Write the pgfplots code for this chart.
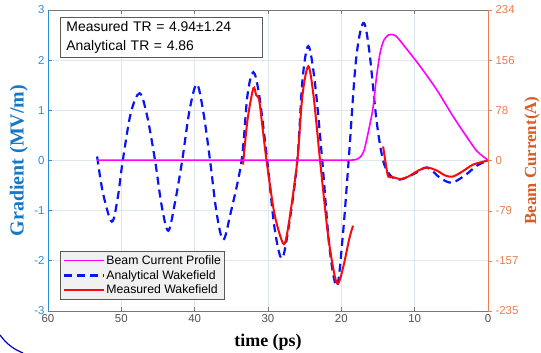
\documentclass[border=0pt]{standalone}
\usepackage{fontspec}
\setmainfont{Liberation Sans}
\newfontfamily\serifb{Liberation Serif}
\usepackage{pgfplots}
\pgfplotsset{compat=1.18}
\definecolor{tickblue}{RGB}{45,140,215}
\definecolor{labblue}{RGB}{20,120,200}
\definecolor{tickorange}{RGB}{232,125,80}
\definecolor{laborange}{RGB}{217,90,35}
\definecolor{axgray}{RGB}{120,120,120}
\definecolor{tickgray}{RGB}{80,80,80}
\definecolor{gridc}{RGB}{222,230,238}
\definecolor{wblue}{RGB}{10,20,245}
\definecolor{wred}{RGB}{250,10,10}
\definecolor{wmag}{RGB}{255,0,255}

\pgfplotstableread{
t G
53.3 0.08
52.5 -0.65
51.3 -1.22
50.5 -0.75
49.8 0.0
48.7 0.95
47.5 1.34
46.5 0.9
45.4 0.0
44.5 -0.9
43.6 -1.40
42.7 -0.85
41.7 0.0
40.7 1.0
39.7 1.52
38.8 0.95
37.9 0.0
37.0 -1.05
36.1 -1.58
35.1 -1.05
33.6 0.0
32.8 1.3
32.0 1.76
31.2 1.3
30.1 0.0
29.1 -1.35
28.1 -1.95
27.1 -1.25
26.0 0.0
25.3 1.6
24.5 2.28
23.6 1.55
22.6 0.0
21.6 -1.75
20.6 -2.50
19.8 -1.5
19.0 0.0
18.0 2.0
17.0 2.74
16.2 2.2
15.2 0.8
14.3 0.0
13.3 -0.30
12.0 -0.38
10.0 -0.26
8.3 -0.14
6.5 -0.35
4.9 -0.44
3.0 -0.28
1.5 -0.10
0.0 0.0
}\analytical

\pgfplotstableread{
t G
33.4 -0.08
32.8 0.80
32.0 1.44
31.6 1.30
31.2 1.20
30.7 0.60
30.2 0.0
29.2 -1.0
28.3 -1.52
27.7 -1.65
27.0 -1.10
26.0 0.0
25.3 1.30
24.5 1.88
23.8 1.30
22.9 0.0
21.8 -1.50
20.9 -2.30
20.4 -2.45
19.7 -2.10
18.9 -1.55
18.4 -1.30
}\measuredA

\pgfplotstableread{
t G
14.3 0.28
13.9 -0.10
13.6 -0.32
13.0 -0.33
12.0 -0.37
11.0 -0.33
9.5 -0.20
8.3 -0.14
7.0 -0.20
5.8 -0.30
4.8 -0.32
3.5 -0.22
2.0 -0.08
0.0 0.0
}\measuredB

\pgfplotstableread{
t I
53.3 0
45.0 0
35.0 0
25.0 0
20.0 0
18.8 0
18.0 1
17.4 5
16.9 15
16.3 45
15.7 80
15.2 130
14.7 168
14.2 187
13.6 195
13.2 196
12.5 193
11.0 172
9.3 147
7.0 110
4.8 69
3.0 38
1.5 14
0.0 0
}\current

\begin{document}
\begin{tikzpicture}
\useasboundingbox (0,0) rectangle (541bp,353bp);
\begin{axis}[
  at={(48bp,42bp)}, anchor=south west,
  scale only axis, width=440bp, height=301bp,
  x dir=reverse, xmin=0, xmax=60, ymin=-3, ymax=3,
  xtick={0,10,...,60}, ytick={-3,-2,...,3},
  axis x line*=box, axis y line*=left,
  axis line style={-},
  x axis line style={draw=axgray, line width=0.9bp},
  y axis line style={draw=tickblue, line width=0.9bp},
  x tick style={draw=axgray, line width=0.7bp},
  y tick style={draw=tickblue, line width=0.7bp},
  tick align=inside, major tick length=4bp,
  grid=major, major grid style={draw=gridc, line width=0.7bp},
  /pgf/number format/assume math mode=true,
  xticklabel style={text=tickgray, font=\fontsize{11.5}{12}\selectfont},
  yticklabel style={text=tickblue, font=\fontsize{11.5}{12}\selectfont},
  xlabel={time (ps)},
  xlabel style={font=\serifb\bfseries\fontsize{18}{18}\selectfont, text=black, at={(axis description cs:0.5,-0.105)}, anchor=center},
  ylabel={Gradient (MV/m)},
  ylabel style={font=\serifb\bfseries\fontsize{20}{20}\selectfont, text=labblue, at={(axis description cs:-0.066,0.5)}, anchor=center},
  legend cell align=left,
  legend image code/.code={\draw[#1] (0bp,0bp) -- (40bp,0bp);},
  legend style={at={(axis description cs:0.027,0.037)}, anchor=south west,
    fill=black!6, draw=black!65, line width=0.8bp,
    font=\fontsize{12.3}{13}\selectfont, row sep=2.5bp,
    inner xsep=3bp, inner ysep=3bp,
    nodes={inner sep=1bp}},
]
\addlegendimage{wmag, line width=1.6bp}
\addlegendentry{Beam Current Profile}
\addplot[wblue, line width=2.2bp, dash pattern=on 8bp off 5bp, smooth, tension=0.55] table[x=t,y=G]{\analytical};
\addlegendentry{Analytical Wakefield}
\addplot[wred, line width=2bp, smooth, tension=0.5] table[x=t,y=G]{\measuredA};
\addlegendentry{Measured Wakefield}
\addplot[wred, line width=2bp, smooth, tension=0.5, forget plot] table[x=t,y=G]{\measuredB};
\node[draw=black!65, line width=0.8bp, fill=white, anchor=north west, align=left,
  font=\fontsize{14}{19}\selectfont, inner xsep=6bp, inner ysep=4bp, text width=190bp]
  at (axis cs:58.36,2.86) {Measured TR = 4.94±1.24\\Analytical TR = 4.86};
\end{axis}
\begin{axis}[
  at={(48bp,42bp)}, anchor=south west,
  scale only axis, width=440bp, height=301bp,
  x dir=reverse, xmin=0, xmax=60, ymin=-235, ymax=234,
  hide x axis,
  axis y line*=right,
  axis line style={-},
  y axis line style={draw=tickorange, line width=0.9bp},
  y tick style={draw=tickorange, line width=0.7bp},
  tick align=outside, major tick length=4bp,
  ytick={-235,-157,-79,0,78,156,234},
  /pgf/number format/assume math mode=true,
  yticklabel style={text=tickorange, font=\fontsize{11.5}{12}\selectfont},
  ylabel={Beam Current(A)},
  ylabel style={font=\serifb\bfseries\fontsize{17}{17}\selectfont, text=laborange, at={(axis description cs:1.1,0.5)}, anchor=center, rotate=0},
]
\addplot[wmag, line width=1.6bp, smooth, tension=0.4] table[x=t,y=I]{\current};
\end{axis}
\draw[blue!80!black, line width=1.2bp] (0bp,18bp) to[bend right=15] (23bp,0bp);
\end{tikzpicture}
\end{document}
